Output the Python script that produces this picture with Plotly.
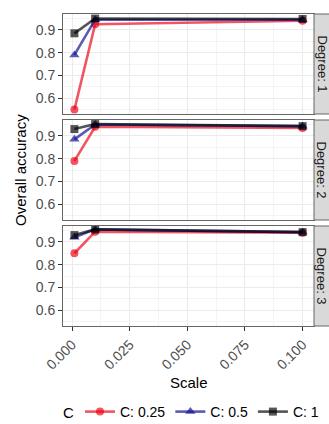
import plotly.graph_objects as go

# Grid-search results: overall accuracy by kernel scale, per polynomial degree and cost C
scale = [0.001, 0.01, 0.1]
degrees = ["Degree: 1", "Degree: 2", "Degree: 3"]
c_labels = ["C: 0.25", "C: 0.5", "C: 1"]

acc_c025 = [[0.55, 0.925, 0.940], [0.79, 0.940, 0.935], [0.85, 0.945, 0.940]]
acc_c05 = [[0.79, 0.945, 0.945], [0.885, 0.950, 0.943], [0.92, 0.955, 0.943]]
acc_c1 = [[0.885, 0.950, 0.948], [0.93, 0.952, 0.943], [0.93, 0.955, 0.943]]

x_ticks = [0.0, 0.025, 0.05, 0.075, 0.1]
y_ticks = [0.6, 0.7, 0.8, 0.9]

W, H = 329, 424
series = [
    (c_labels[0], acc_c025, "rgba(235,0,20,0.67)", "circle", 8),
    (c_labels[1], acc_c05, "rgba(20,20,150,0.7)", "triangle-up", 9),
    (c_labels[2], acc_c1, "rgba(0,0,0,0.67)", "square", 8),
]


def px_x(v):
    return v / W


def px_y(v):
    return 1 - v / H


x_dom = [px_x(63), px_x(314)]
panel_px = [(14, 114), (120, 220), (226, 326)]
legend_row = 412

fig = go.Figure()

for i in range(3):
    xa = "x" if i == 0 else f"x{i + 1}"
    ya = "y" if i == 0 else f"y{i + 1}"
    for name, data, color, sym, size in series:
        fig.add_trace(go.Scatter(
            x=scale, y=data[i], mode="lines+markers", name=name,
            legendgroup=name, showlegend=(i == 0),
            line=dict(color=color, width=2.6),
            marker=dict(color=color, symbol=sym, size=size, line=dict(width=0)),
            xaxis=xa, yaxis=ya,
        ))

tick_font = dict(family="Liberation Sans, Arial, sans-serif", size=14, color="#4D4D4D")
layout = dict(
    width=W, height=H,
    margin=dict(l=0, r=0, t=0, b=0, autoexpand=False),
    paper_bgcolor="white", plot_bgcolor="white",
    font=dict(family="Liberation Sans, Arial, sans-serif", color="#1A1A1A"),
)

for i, (top, bot) in enumerate(panel_px):
    sfx = "" if i == 0 else str(i + 1)
    layout["xaxis" + sfx] = dict(
        domain=x_dom, anchor="y" + sfx, range=[-0.00395, 0.10495],
        tickvals=x_ticks, tickformat=".3f", tickangle=-45,
        showticklabels=(i == 2), ticks="outside" if i == 2 else "",
        ticklen=4, tickcolor="#333333", tickfont=tick_font,
        showgrid=True, gridcolor="#EBEBEB", gridwidth=1,
        minor=dict(tickvals=[0.0125, 0.0375, 0.0625, 0.0875], showgrid=True,
                   gridcolor="#F4F4F4", gridwidth=0.6),
        showline=True, mirror=True, linecolor="#666666", linewidth=1,
        zeroline=False, fixedrange=True,
    )
    layout["yaxis" + sfx] = dict(
        domain=[px_y(bot), px_y(top)], anchor="x" + sfx, range=[0.53, 0.97],
        tickvals=y_ticks, tickformat=".1f", ticks="outside", ticklen=4,
        tickcolor="#333333", tickfont=tick_font,
        showgrid=True, gridcolor="#EBEBEB", gridwidth=1,
        minor=dict(tickvals=[0.55, 0.65, 0.75, 0.85, 0.95], showgrid=True,
                   gridcolor="#F4F4F4", gridwidth=0.6),
        showline=True, mirror=True, linecolor="#666666", linewidth=1,
        zeroline=False, fixedrange=True,
    )

fig.update_layout(**layout)

# facet strips on the right side of each panel
shapes = []
annotations = []
for (top, bot), label in zip(panel_px, degrees):
    shapes.append(dict(
        type="rect", xref="paper", yref="paper",
        x0=px_x(314), x1=px_x(338), y0=px_y(bot), y1=px_y(top),
        fillcolor="#D9D9D9", line=dict(color="#666666", width=1), layer="above",
    ))
    annotations.append(dict(
        text=label, xref="paper", yref="paper",
        x=px_x(321.5), y=px_y((top + bot) / 2), textangle=90,
        showarrow=False, font=dict(size=13, color="#1A1A1A"),
        xanchor="center", yanchor="middle",
    ))

annotations.append(dict(
    text="Overall accuracy", xref="paper", yref="paper",
    x=px_x(20), y=px_y(170), textangle=-90, showarrow=False,
    font=dict(size=15, color="#000000"), xanchor="center", yanchor="middle",
))
annotations.append(dict(
    text="Scale", xref="paper", yref="paper",
    x=px_x(188.5), y=px_y(382), showarrow=False,
    font=dict(size=15, color="#000000"), xanchor="center", yanchor="middle",
))
# legend heading, set inline with the legend entries
annotations.append(dict(
    text="C", xref="paper", yref="paper",
    x=px_x(68), y=px_y(legend_row), showarrow=False,
    font=dict(size=15, color="#000000"), xanchor="center", yanchor="middle",
))

fig.update_layout(
    shapes=shapes, annotations=annotations,
    legend=dict(
        orientation="h", x=px_x(202), y=px_y(legend_row), xanchor="center", yanchor="middle",
        font=dict(size=14, color="#000000"), itemwidth=30,
        bgcolor="rgba(0,0,0,0)", tracegroupgap=0,
    ),
)

fig.write_html("out.html")
